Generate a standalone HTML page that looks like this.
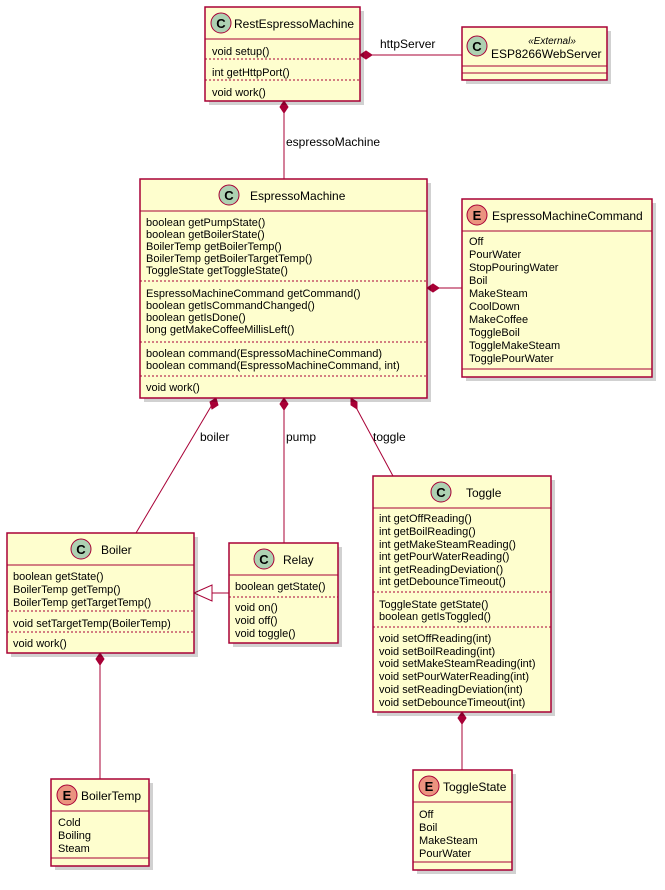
<!DOCTYPE html>
<html><head><meta charset="utf-8"><style>
html,body{margin:0;padding:0;background:#fff}
svg text{font-family:"Liberation Sans",sans-serif;font-size:11px;fill:#000}
.b{fill:#FEFECE;stroke:#A80036;stroke-width:1.5}
.s{fill:#000;opacity:.18}
.l{stroke:#A80036;stroke-width:1}
.d{stroke:#A80036;stroke-width:1;stroke-dasharray:2,2}
.ln{stroke:#A80036;stroke-width:1;fill:none}
.dm{fill:#A80036;stroke:#A80036}
.cc{fill:#ADD1B2;stroke:#A80036;stroke-width:1}
.ce{fill:#EB937F;stroke:#A80036;stroke-width:1}
.ic{font-size:13px;font-weight:bold;text-anchor:middle}
.t{font-size:12px}
</style></head><body>
<svg width="665" height="885" xmlns="http://www.w3.org/2000/svg">
<!-- connectors -->
<line class="ln" x1="284" y1="101" x2="284" y2="179"/>
<polygon class="dm" points="284,101 288,107 284,113 280,107"/>
<text x="286" y="146" class="t">espressoMachine</text>
<line class="ln" x1="360" y1="55" x2="462" y2="55"/>
<polygon class="dm" points="360,55 366,51 372,55 366,59"/>
<text x="380" y="48" class="t">httpServer</text>
<line class="ln" x1="427" y1="288" x2="462" y2="288"/>
<polygon class="dm" points="427,288 433,284 439,288 433,292"/>
<line class="ln" x1="216" y1="398" x2="136" y2="533"/>
<polygon class="dm" points="216,398 218,405 212,409 210,402"/>
<text x="200" y="441" class="t">boiler</text>
<line class="ln" x1="284" y1="398" x2="284" y2="543"/>
<polygon class="dm" points="284,398 288,404 284,410 280,404"/>
<text x="286" y="441" class="t">pump</text>
<line class="ln" x1="351" y1="398" x2="393" y2="476"/>
<polygon class="dm" points="351,398 357,402 357,409 351,405"/>
<text x="373" y="441" class="t">toggle</text>
<line class="ln" x1="212" y1="593" x2="229" y2="593"/>
<polygon points="194,593 212,585 212,601" fill="none" stroke="#A80036"/>
<line class="ln" x1="100" y1="653" x2="100" y2="779"/>
<polygon class="dm" points="100,653 104,659 100,665 96,659"/>
<line class="ln" x1="462" y1="712" x2="462" y2="770"/>
<polygon class="dm" points="462,712 466,718 462,724 458,718"/>

<!-- RestEspressoMachine -->
<rect class="s" x="209" y="11" width="155" height="94"/>
<rect class="b" x="205" y="7" width="155" height="94"/>
<circle class="cc" cx="221" cy="23" r="10"/><text class="ic" x="221" y="28">C</text>
<text x="234" y="28" class="t">RestEspressoMachine</text>
<line class="l" x1="205" y1="39" x2="360" y2="39"/>
<text x="212" y="55">void setup()</text>
<line class="d" x1="205" y1="59" x2="360" y2="59"/>
<text x="212" y="76">int getHttpPort()</text>
<line class="d" x1="205" y1="80" x2="360" y2="80"/>
<text x="212" y="96">void work()</text>

<!-- ESP8266WebServer -->
<rect class="s" x="466" y="31" width="145" height="53"/>
<rect class="b" x="462" y="27" width="145" height="53"/>
<circle class="cc" cx="477" cy="46" r="10"/><text class="ic" x="477" y="51">C</text>
<text x="552" y="44" font-style="italic" text-anchor="middle" style="font-size:10px">«External»</text>
<text x="491" y="58" class="t">ESP8266WebServer</text>
<line class="l" x1="462" y1="66" x2="607" y2="66"/>
<line class="l" x1="462" y1="73" x2="607" y2="73"/>

<!-- EspressoMachine -->
<rect class="s" x="144" y="183" width="287" height="219"/>
<rect class="b" x="140" y="179" width="287" height="219"/>
<circle class="cc" cx="229" cy="195" r="10"/><text class="ic" x="229" y="200">C</text>
<text x="250" y="200" class="t">EspressoMachine</text>
<line class="l" x1="140" y1="211" x2="427" y2="211"/>
<text x="146" y="226">boolean getPumpState()</text>
<text x="146" y="238">boolean getBoilerState()</text>
<text x="146" y="250">BoilerTemp getBoilerTemp()</text>
<text x="146" y="262">BoilerTemp getBoilerTargetTemp()</text>
<text x="146" y="274">ToggleState getToggleState()</text>
<line class="d" x1="140" y1="281" x2="427" y2="281"/>
<text x="146" y="297">EspressoMachineCommand getCommand()</text>
<text x="146" y="309">boolean getIsCommandChanged()</text>
<text x="146" y="321">boolean getIsDone()</text>
<text x="146" y="333">long getMakeCoffeeMillisLeft()</text>
<line class="d" x1="140" y1="342" x2="427" y2="342"/>
<text x="146" y="357">boolean command(EspressoMachineCommand)</text>
<text x="146" y="369">boolean command(EspressoMachineCommand, int)</text>
<line class="d" x1="140" y1="376" x2="427" y2="376"/>
<text x="146" y="391">void work()</text>

<!-- EspressoMachineCommand -->
<rect class="s" x="466" y="203" width="190" height="178"/>
<rect class="b" x="462" y="199" width="190" height="178"/>
<circle class="cc ce" cx="477" cy="215" r="10"/><text class="ic" x="477" y="220">E</text>
<text x="492" y="220" class="t">EspressoMachineCommand</text>
<line class="l" x1="462" y1="231" x2="652" y2="231"/>
<text x="469" y="245">Off</text>
<text x="469" y="258">PourWater</text>
<text x="469" y="271">StopPouringWater</text>
<text x="469" y="284">Boil</text>
<text x="469" y="297">MakeSteam</text>
<text x="469" y="310">CoolDown</text>
<text x="469" y="323">MakeCoffee</text>
<text x="469" y="336">ToggleBoil</text>
<text x="469" y="349">ToggleMakeSteam</text>
<text x="469" y="362">TogglePourWater</text>
<line class="l" x1="462" y1="369" x2="652" y2="369"/>

<!-- Boiler -->
<rect class="s" x="11" y="537" width="187" height="120"/>
<rect class="b" x="7" y="533" width="187" height="120"/>
<circle class="cc" cx="81" cy="549" r="10"/><text class="ic" x="81" y="554">C</text>
<text x="101" y="554" class="t">Boiler</text>
<line class="l" x1="7" y1="565" x2="194" y2="565"/>
<text x="13" y="580">boolean getState()</text>
<text x="13" y="593">BoilerTemp getTemp()</text>
<text x="13" y="606">BoilerTemp getTargetTemp()</text>
<line class="d" x1="7" y1="611" x2="194" y2="611"/>
<text x="13" y="627">void setTargetTemp(BoilerTemp)</text>
<line class="d" x1="7" y1="632" x2="194" y2="632"/>
<text x="13" y="647">void work()</text>

<!-- Relay -->
<rect class="s" x="233" y="547" width="109" height="100"/>
<rect class="b" x="229" y="543" width="109" height="100"/>
<circle class="cc" cx="264" cy="559" r="10"/><text class="ic" x="264" y="564">C</text>
<text x="283" y="564" class="t">Relay</text>
<line class="l" x1="229" y1="575" x2="338" y2="575"/>
<text x="235" y="590">boolean getState()</text>
<line class="d" x1="229" y1="597" x2="338" y2="597"/>
<text x="235" y="611">void on()</text>
<text x="235" y="624">void off()</text>
<text x="235" y="637">void toggle()</text>

<!-- Toggle -->
<rect class="s" x="377" y="480" width="178" height="236"/>
<rect class="b" x="373" y="476" width="178" height="236"/>
<circle class="cc" cx="441" cy="492" r="10"/><text class="ic" x="441" y="497">C</text>
<text x="466" y="497" class="t">Toggle</text>
<line class="l" x1="373" y1="508" x2="551" y2="508"/>
<text x="379" y="522">int getOffReading()</text>
<text x="379" y="535">int getBoilReading()</text>
<text x="379" y="548">int getMakeSteamReading()</text>
<text x="379" y="560">int getPourWaterReading()</text>
<text x="379" y="573">int getReadingDeviation()</text>
<text x="379" y="585">int getDebounceTimeout()</text>
<line class="d" x1="373" y1="592" x2="551" y2="592"/>
<text x="379" y="608">ToggleState getState()</text>
<text x="379" y="620">boolean getIsToggled()</text>
<line class="d" x1="373" y1="627" x2="551" y2="627"/>
<text x="379" y="642">void setOffReading(int)</text>
<text x="379" y="655">void setBoilReading(int)</text>
<text x="379" y="667">void setMakeSteamReading(int)</text>
<text x="379" y="680">void setPourWaterReading(int)</text>
<text x="379" y="693">void setReadingDeviation(int)</text>
<text x="379" y="706">void setDebounceTimeout(int)</text>

<!-- BoilerTemp -->
<rect class="s" x="55" y="783" width="98" height="87"/>
<rect class="b" x="51" y="779" width="98" height="87"/>
<circle class="cc ce" cx="67" cy="795" r="10"/><text class="ic" x="67" y="800">E</text>
<text x="81" y="800" class="t">BoilerTemp</text>
<line class="l" x1="51" y1="811" x2="149" y2="811"/>
<text x="58" y="826">Cold</text>
<text x="58" y="839">Boiling</text>
<text x="58" y="852">Steam</text>
<line class="l" x1="51" y1="858" x2="149" y2="858"/>

<!-- ToggleState -->
<rect class="s" x="417" y="774" width="99" height="100"/>
<rect class="b" x="413" y="770" width="99" height="100"/>
<circle class="cc ce" cx="429" cy="786" r="10"/><text class="ic" x="429" y="791">E</text>
<text x="443" y="791" class="t">ToggleState</text>
<line class="l" x1="413" y1="802" x2="512" y2="802"/>
<text x="419" y="818">Off</text>
<text x="419" y="831">Boil</text>
<text x="419" y="844">MakeSteam</text>
<text x="419" y="857">PourWater</text>
<line class="l" x1="413" y1="862" x2="512" y2="862"/>
</svg>
</body></html>
